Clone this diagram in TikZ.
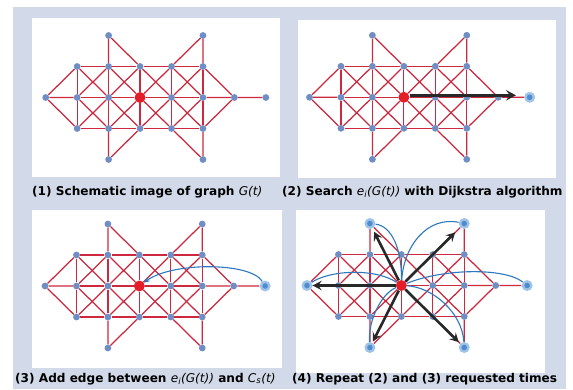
\documentclass[tikz,border=0pt]{standalone}
\usepackage{fontspec}
\setmainfont{DejaVu Sans}
\usetikzlibrary{arrows.meta}
\pgfdeclarelayer{bgl}
\pgfdeclarelayer{edl}
\pgfsetlayers{bgl,edl,main}
\definecolor{edgec}{RGB}{205,40,62}
\definecolor{nodec}{RGB}{112,142,196}
\definecolor{ctrc}{RGB}{228,30,40}
\definecolor{haloc}{RGB}{160,196,232}
\definecolor{dotc}{RGB}{80,140,205}
\definecolor{curvec}{RGB}{45,120,190}
\definecolor{arrc}{RGB}{40,40,40}
\definecolor{backc}{RGB}{210,218,233}
\tikzset{
 gn/.style={circle,fill=nodec,inner sep=0pt,minimum size=6.8pt},
 cn/.style={circle,fill=ctrc,inner sep=0pt,minimum size=11pt},
 hn/.style={circle,fill=haloc,inner sep=0pt,minimum size=11pt,path picture={\fill[dotc] (path picture bounding box.center) circle (2.8pt);}},
 ed/.style={draw=edgec,line width=1.25pt},
 blk/.style={draw=arrc,line width=2.6pt,-{Stealth[length=9pt,width=9.5pt,inset=3.5pt]}},
 blc/.style={draw=curvec,line width=1.1pt},
 captxt/.style={anchor=base west,inner sep=0pt,font=\bfseries\fontsize{12.1}{14}\selectfont},
 panel/.style={fill=white,draw=none},
}
\newcommand{\drawgraph}[6]{%
\begin{scope}[shift={(#1,#2)},x=31.45pt,y=-31pt]
 \node[#4] (#30m) at (0,0) {};
 \foreach \cc in {1,...,5}{\node[gn] (#3\cc u) at (\cc,-1) {}; \node[gn] (#3\cc d) at (\cc,1) {};}
 \foreach \cc in {1,2,4,5}{\node[gn] (#3\cc m) at (\cc,0) {};}
 \node[cn] (#33m) at (3,0) {};
 \node[#6] (#32t) at (2,-2) {};
 \node[#6] (#35t) at (5,-2) {};
 \node[#6] (#32b) at (2,2) {};
 \node[#6] (#35b) at (5,2) {};
 \node[gn] (#36m) at (6,0) {};
 \node[#5] (#37m) at (7,0) {};
 \begin{pgfonlayer}{edl}
  \draw[ed] (#30m) -- (#31u) (#30m) -- (#31m) (#30m) -- (#31d);
  \foreach \rr in {u,m,d}{\draw[ed] (#31\rr) -- (#32\rr) -- (#33\rr) -- (#34\rr) -- (#35\rr);}
  \foreach \cc in {1,...,5}{\draw[ed] (#3\cc u) -- (#3\cc m); \draw[ed] (#3\cc m) -- (#3\cc d);}
  \foreach \cc/\dd in {1/2,2/3,3/4,4/5}{\draw[ed] (#3\cc u) -- (#3\dd m) -- (#3\cc d); \draw[ed] (#3\cc m) -- (#3\dd u); \draw[ed] (#3\cc m) -- (#3\dd d);}
  \draw[ed] (#32t) -- (#32u) (#32t) -- (#33u) (#35t) -- (#35u) (#35t) -- (#34u);
  \draw[ed] (#32b) -- (#32d) (#32b) -- (#33d) (#35b) -- (#35d) (#35b) -- (#34d);
  \draw[ed] (#36m) -- (#35u) (#36m) -- (#35m) (#36m) -- (#35d) (#36m) -- (#37m);
 \end{pgfonlayer}
\end{scope}}
\begin{document}
\begin{tikzpicture}[x=1pt,y=-1pt]
\useasboundingbox (0,0) rectangle (573,389);
\begin{pgfonlayer}{bgl}
\fill[white] (0,0) rectangle (573,389);
\fill[backc] (13,7) rectangle (566,389);
\fill[panel] (32,18) rectangle (280,177);
\fill[panel] (298,20) rectangle (556,178);
\fill[panel] (32,210) rectangle (282,368);
\fill[panel] (296,210) rectangle (545,373);
\end{pgfonlayer}
\drawgraph{45.7}{97.5}{a}{gn}{gn}{gn}
\drawgraph{309.5}{97.3}{b}{gn}{hn}{gn}
\drawgraph{45}{286}{c}{gn}{hn}{gn}
\drawgraph{307}{285.5}{d}{hn}{hn}{hn}
% panel 2
\draw[blk,line width=2.8pt,-{Stealth[length=10pt,width=10.5pt,inset=4pt]},shorten >=8pt] ([yshift=2pt]b3m.east) -- ([yshift=2pt]b7m.west);
% panel 3
\draw[blc,-{Stealth[length=6pt,width=5pt]}] (c7m) .. controls (250,262) and (172,262) .. (c3m);
% panel 4 curves
\draw[blc] (d2t) .. controls (392,226) and (402,250) .. (d3m);
\draw[blc] (d5t) .. controls (428,216) and (404,245) .. (d3m);
\draw[blc] (d0m) .. controls (330,270) and (375,268) .. (d3m);
\draw[blc] (d7m) .. controls (505,268) and (445,268) .. (d3m);
\draw[blc] (d3m) .. controls (382,293) and (368,320) .. (d2b);
\draw[blc] (d3m) .. controls (432,287) and (462,312) .. (d5b);
% panel 4 arrows
\draw[blk] (d3m) -- (d0m);
\draw[blk,shorten >=3.5pt] (d3m) -- (d2t);
\draw[blk,shorten >=7pt] (d3m) -- (d5t);
\draw[blk,shorten >=1pt] (d3m) -- (d2b);
\draw[blk,shorten >=2pt] (d3m) -- (d5b);
% captions
\node[captxt] (cap1) at (32,195) {(1) Schematic image of graph {\mdseries\itshape G(t)}};
\node[captxt] (cap2) at (282,195) {(2) Search {\mdseries\itshape e\textsubscript{i}(G(t))} with Dijkstra algorithm};
\node[captxt] (cap3) at (15,382) {(3) Add edge between {\mdseries\itshape e\textsubscript{i}(G(t))} and {\mdseries\itshape C\textsubscript{s}(t)}};
\node[captxt] (cap4) at (292,382.5) {(4) Repeat (2) and (3) requested times};
\end{tikzpicture}
\end{document}
